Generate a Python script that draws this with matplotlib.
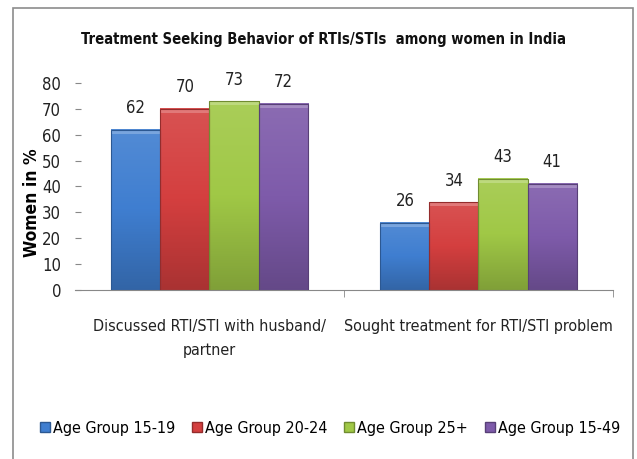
import matplotlib.pyplot as plt
import numpy as np
from matplotlib.colors import LinearSegmentedColormap, to_rgb
from matplotlib.lines import Line2D
from matplotlib.patches import Rectangle

plt.rcParams["font.family"] = ["DejaVu Sans"]
plt.rcParams["font.stretch"] = "condensed"

title = "Treatment Seeking Behavior of RTIs/STIs  among women in India"
categories = ["Discussed RTI/STI with husband/\npartner", "Sought treatment for RTI/STI problem"]
groups = ["Age Group 15-19", "Age Group 20-24", "Age Group 25+", "Age Group 15-49"]
values = {
    "Age Group 15-19": [62, 26],
    "Age Group 20-24": [70, 34],
    "Age Group 25+": [73, 43],
    "Age Group 15-49": [72, 41],
}
colors = ["#3F7ED0", "#D43F3F", "#A0C846", "#7E5BAA"]


def shade(c, f):
    r, g, b = to_rgb(c)
    if f > 1:
        return (r + (1 - r) * (f - 1), g + (1 - g) * (f - 1), b + (1 - b) * (f - 1))
    return (r * f, g * f, b * f)


fig = plt.figure(figsize=(6.37, 4.59), dpi=100)
ax = fig.add_axes([0.1177, 0.3682, 0.8446, 0.451])

x = np.arange(len(categories))
width = 0.73 / len(groups)
for i, (g, c) in enumerate(zip(groups, colors)):
    pos = x - 0.365 + width * (i + 0.5)
    bars = ax.bar(pos, values[g], width, color=c, edgecolor=shade(c, 0.75), linewidth=0.6, label=g, zorder=2)
    cmap = LinearSegmentedColormap.from_list(g, [shade(c, 1.1), c, shade(c, 0.8)])
    for b in bars:
        bx, bw, bh = b.get_x(), b.get_width(), b.get_height()
        grad = np.linspace(0, 1, 100).reshape(-1, 1)
        ax.imshow(grad, cmap=cmap, aspect="auto", extent=(bx, bx + bw, 0, bh), zorder=2.5)
        ax.add_patch(Rectangle((bx, bh - 1.6), bw, 1.6, color=shade(c, 1.3), zorder=2.6, lw=0))
        ax.add_patch(Rectangle((bx, 0), bw, bh, fill=False, edgecolor=shade(c, 0.7), lw=0.8, zorder=2.7))
    for p, v in zip(pos, values[g]):
        ax.annotate(str(v), (p, v), xytext=(0, 9), textcoords="offset points",
                    ha="center", va="bottom", fontsize=12, color="#222222")

ax.set_xlim(-0.5, 1.5)
ax.set_ylim(0, 80)
ax.set_yticks(np.arange(0, 81, 10))
ax.tick_params(axis="y", direction="in", length=4, color="#888888", labelsize=12, pad=10,
               labelcolor="#222222")
ax.set_xticks(x)
ax.set_xticklabels(categories, fontsize=11.5, color="#222222", linespacing=1.75)
ax.tick_params(axis="x", length=0, pad=21)
ax.set_xticks([0.5, 1.5], minor=True)
ax.tick_params(axis="x", which="minor", length=5, color="#888888")
for s in ["left", "right", "top"]:
    ax.spines[s].set_visible(False)
ax.spines["bottom"].set_color("#888888")

fig.text(0.508, 0.915, title, ha="center", va="center", fontsize=10.6, fontweight="bold", color="#111111")
fig.text(0.05, 0.558, "Women in %", rotation=90, ha="center", va="center", fontsize=12.5, fontweight="bold")

handles = [Line2D([], [], marker="s", ls="", markersize=7, markerfacecolor=c,
                  markeredgecolor=shade(c, 0.7)) for c in colors]
fig.legend(handles, groups, loc="center", bbox_to_anchor=(0.517, 0.067), ncol=4, frameon=False,
           fontsize=11.5, handletextpad=0.1, columnspacing=0.97, handlelength=0.8)

fig.add_artist(Rectangle((0.021, -0.05), 0.972, 1.033, transform=fig.transFigure,
                         fill=False, edgecolor="#8C8C8C", lw=1.2))

fig.savefig("out.png", dpi=100)
